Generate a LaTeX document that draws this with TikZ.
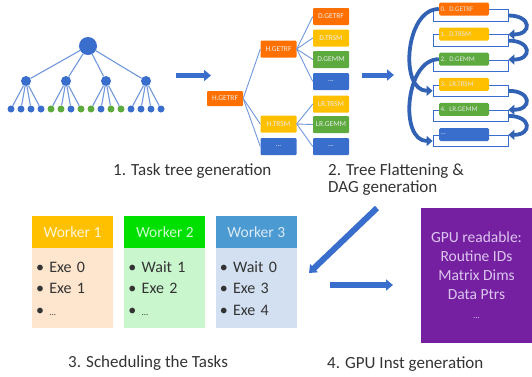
\documentclass[tikz,border=0pt]{standalone}
\usepackage{fontspec}
\setmainfont{Carlito}
\usetikzlibrary{arrows.meta,positioning}
\definecolor{tblue}{HTML}{3A6ECC}
\definecolor{tlight}{HTML}{7097DC}
\definecolor{torange}{HTML}{FF7000}
\definecolor{tyellow}{HTML}{FFC000}
\definecolor{tgreen}{HTML}{5DAA3F}
\definecolor{darr}{HTML}{3262B4}
\definecolor{wgreen}{HTML}{00E000}
\definecolor{wblue}{HTML}{4B9AD2}
\definecolor{bodyA}{HTML}{FDE5CE}
\definecolor{bodyB}{HTML}{C9F6CD}
\definecolor{bodyC}{HTML}{D2E0F1}
\definecolor{gpupurple}{HTML}{7520A0}
\definecolor{gputext}{HTML}{DCC6F0}
\tikzset{
  dot/.style={circle,fill=tblue,inner sep=0pt},
  tedge/.style={tlight,line width=1.1pt},
  task/.style={rectangle,rounded corners=1pt,minimum width=36pt,minimum height=17pt,inner sep=1pt,
    font=\fontsize{7.5}{8}\selectfont,text=white!92!black},
  dagbox/.style={rectangle,rounded corners=1.5pt,minimum width=50pt,minimum height=13pt,inner sep=1pt,
    text width=47pt,align=left,font=\fontsize{7}{8}\selectfont,text=white!90!black},
  outl/.style={rectangle,draw=tblue,line width=0.8pt,fill=white,minimum width=75pt,minimum height=11.5pt,inner sep=0pt},
  darrow/.style={darr,line width=3.8pt,-{Triangle[length=6pt,width=10pt]}},
  bigarrow/.style={tblue,line width=5pt,-{Triangle[length=7pt,width=11pt]}},
  whead/.style={rectangle,minimum width=81pt,minimum height=32pt,inner sep=0pt,font=\fontsize{15.5}{18}\selectfont},
  wbody/.style={rectangle,minimum width=81pt,minimum height=80pt,text width=73pt,inner sep=0pt,align=left,
    text=black!80,font=\fontsize{16}{21.5}\selectfont},
  caption/.style={anchor=base west,inner sep=0pt,text=black!80,font=\fontsize{17}{17}\selectfont}
}
\begin{document}
\begin{tikzpicture}[x=1pt,y=-1pt]
\useasboundingbox (0,0) rectangle (532,376);
% task tree
\node[dot,minimum size=18pt] (t) at (88,46) {};
\foreach \i in {1,...,4}{
  \node[dot,minimum size=10pt] (m\i) at ({-14+40*\i},81) {};
  \draw[tedge] (t)--(m\i);
}
\foreach \c [count=\k] in {tblue,tblue,tblue,tblue,tgreen,tgreen,tblue,tgreen,tgreen,tblue,tgreen,tgreen,tblue,tblue,tblue,tblue}{
  \pgfmathtruncatemacro{\p}{ceil(\k/4)}
  \node[dot,fill=\c,minimum size=7pt] (l\k) at ({1+10*\k},109) {};
  \draw[tedge] (m\p)--(l\k);
}
\coordinate (a1s) at (176,75.5);
\coordinate (a1e) at (211,75.5);
\draw[bigarrow] (a1s)--(a1e);
% hierarchical tasks
\node[task,fill=torange,minimum height=15pt] (rt) at (225,98.5) {H.GETRF};
\node[task,fill=torange] (hg) at (278.5,49) {H.GETRF};
\node[task,fill=tyellow] (ht) at (278.5,124) {H.TRSM};
\node[task,fill=tblue] (hd) at (278.5,146.5) {...};
\node[task,fill=torange] (dg) at (331,16.5) {D.GETRF};
\node[task,fill=tyellow] (dt) at (331,38) {D.TRSM};
\node[task,fill=tgreen] (dm) at (331,59.5) {D.GEMM};
\node[task,fill=tblue] (dd) at (331,81.5) {...};
\node[task,fill=tyellow] (lt) at (331,104) {LR.TRSM};
\node[task,fill=tgreen] (lm) at (331,124.5) {LR.GEMM};
\node[task,fill=tblue] (ld) at (331,146.5) {...};
\foreach \n in {hg,ht,hd} \draw[tedge,line width=0.9pt] (rt.east)--(\n.west);
\foreach \n in {dg,dt,dm,dd} \draw[tedge,line width=0.9pt] (hg.east)--(\n.west);
\foreach \n in {lt,lm,ld} \draw[tedge,line width=0.9pt] (ht.east)--(\n.west);
\coordinate (a2s) at (362,75);
\coordinate (a2e) at (394,75);
\draw[bigarrow] (a2s)--(a2e);
% flattened list
\foreach \i/\c/\t in {0/torange/{0.\enspace D.GETRF},1/tyellow/{1.\enspace D.TRSM},2/tgreen/{2.\enspace D.GEMM},
  3/tyellow/{3.\enspace LR.TRSM},4/tgreen/{4.\enspace LR.GEMM},5/tblue/{...}}{
  \node[outl] (o\i) at (470.5,{15.5+25.1*\i}) {};
  \node[dagbox,fill=\c] (b\i) at (464,{9+25.1*\i}) {\t};
}
\foreach \i/\j in {0/1,1/2,3/4,4/5}
  \draw[darrow] (o\i.east) to[out=0,in=0,looseness=3.2] (o\j.north east);
\draw[darrow] (b0.west) to[out=180,in=180,looseness=1.05] (o3.west);
\draw[darrow] (b2.west) to[out=180,in=180,looseness=1.05] (o5.west);
\node[caption] (c1) at (113,175) {1. Task tree generation};
\node[caption] (c2) at (328,175) {2. Tree Flattening \&};
\node[caption] (c2b) at (328,192) {DAG generation};
\coordinate (a3s) at (377,208);
\coordinate (a3e) at (309,273);
\draw[bigarrow,line width=6pt] (a3s)--(a3e);
% workers
\node[whead,fill=tyellow,text=white!85!tyellow] (w1) at (72.5,232) {Worker 1};
\node[whead,fill=wgreen,text=white!80!wgreen,right=11pt of w1] (w2) {Worker 2};
\node[whead,fill=wblue,text=white!80!wblue,right=10pt of w2] (w3) {Worker 3};
\node[wbody,fill=bodyA,below=0pt of w1] (e1) {\textbullet\ Exe 0\\\textbullet\ Exe 1\\\textbullet\ \textnormal{\fontsize{9}{9}\selectfont ...}};
\node[wbody,fill=bodyB,below=0pt of w2] (e2) {\textbullet\ Wait 1\\\textbullet\ Exe 2\\\textbullet\ \textnormal{\fontsize{9}{9}\selectfont ...}};
\node[wbody,fill=bodyC,below=0pt of w3] (e3) {\textbullet\ Wait 0\\\textbullet\ Exe 3\\\textbullet\ Exe 4};
\node[caption] (c3) at (68,367) {3. Scheduling the Tasks};
\coordinate (a4s) at (330,285);
\coordinate (a4e) at (393,285);
\draw[bigarrow,line width=5.5pt] (a4s)--(a4e);
% gpu side
\node[rectangle,fill=gpupurple,minimum width=111pt,minimum height=135pt,inner sep=0pt,align=center,
  text=gputext,font=\fontsize{15.5}{19}\selectfont] (gpu) at (476.5,275.5)
  {GPU readable:\\Routine IDs\\Matrix Dims\\Data Ptrs\\{\fontsize{9}{9}\selectfont ...}};
\node[caption] (c4) at (327,368) {4. GPU Inst generation};
\end{tikzpicture}
\end{document}
